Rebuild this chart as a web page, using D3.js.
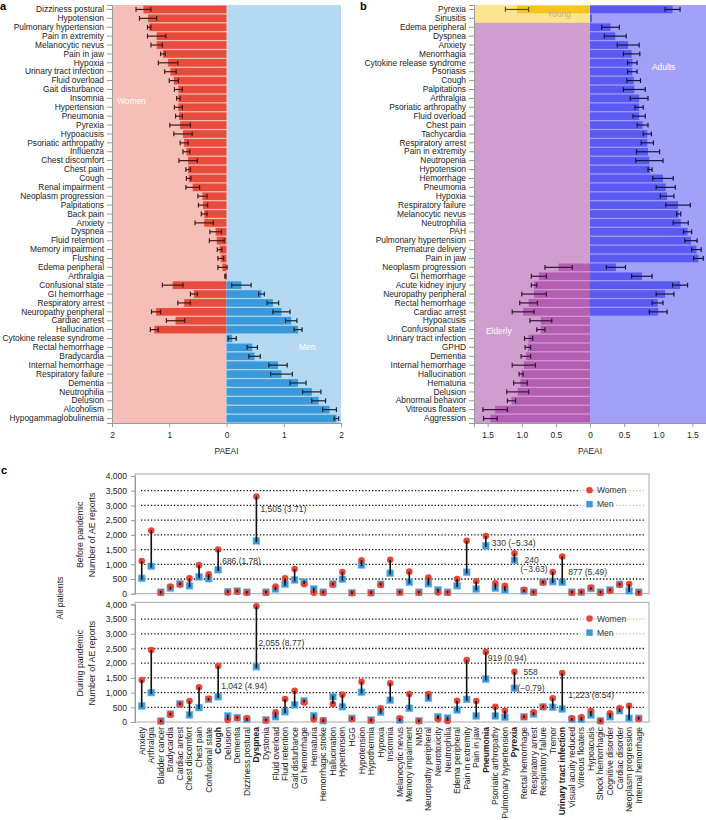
<!DOCTYPE html>
<html>
<head>
<meta charset="utf-8">
<script src="https://cdn.jsdelivr.net/npm/d3@7"></script>
<style>
  body { margin: 0; background: #fff; }
  svg { font-family: "Liberation Sans", Arial, Helvetica, sans-serif; }
</style>
</head>
<body>
<svg id="chart" width="706" height="820"></svg>
<script>
// ---------- Panel a: women vs men ----------
const aLabels = ['Dizziness postural', 'Hypotension', 'Pulmonary hypertension', 'Pain in extremity',
  'Melanocytic nevus', 'Pain in jaw', 'Hypoxia', 'Urinary tract infection', 'Fluid overload',
  'Gait disturbance', 'Insomnia', 'Hypertension', 'Pneumonia', 'Pyrexia', 'Hypoacusis',
  'Psoriatic arthropathy', 'Influenza', 'Chest discomfort', 'Chest pain', 'Cough',
  'Renal impairment', 'Neoplasm progression', 'Palpitations', 'Back pain', 'Anxiety', 'Dyspnea',
  'Fluid retention', 'Memory impairment', 'Flushing', 'Edema peripheral', 'Arthralgia',
  'Confusional state', 'GI hemorrhage', 'Respiratory arrest', 'Neuropathy peripheral',
  'Cardiac arrest', 'Hallucination', 'Cytokine release syndrome', 'Rectal hemorrhage',
  'Bradycardia', 'Internal hemorrhage', 'Respiratory failure', 'Dementia', 'Neutrophilia',
  'Delusion', 'Alcoholism', 'Hypogammaglobulinemia'];
const aWomen = [1.45, 1.37, 1.35, 1.22, 1.22, 1.11, 1.02, 0.98, 0.92, 0.84, 0.84, 0.84, 0.83, 0.81,
  0.76, 0.74, 0.70, 0.67, 0.67, 0.66, 0.59, 0.42, 0.41, 0.39, 0.39, 0.19, 0.17, 0.12, 0.10, 0.07,
  0.02, 0.94, 0.57, 0.74, 1.23, 0.89, 1.26, null, null, null, null, null, null, null, null, null, null];
const aWomenErr = [0.13, 0.15, 0.03, 0.16, 0.10, 0.04, 0.17, 0.10, 0.08, 0.07, 0.03, 0.07, 0.06, 0.18,
  0.16, 0.07, 0.06, 0.16, 0.04, 0.04, 0.12, 0.08, 0.08, 0.05, 0.16, 0.10, 0.13, 0.04, 0.05, 0.08,
  0.01, 0.18, 0.06, 0.11, 0.08, 0.16, 0.07, null, null, null, null, null, null, null, null, null, null];
const aMen = [null, null, null, null, null, null, null, null, null, null, null, null, null, null, null,
  null, null, null, null, null, null, null, null, null, null, null, null, null, null, null, null,
  0.26, 0.61, 0.81, 0.96, 1.13, 1.25, 0.10, 0.45, 0.49, 0.90, 0.96, 1.25, 1.49, 1.61, 1.80, 1.92];
const aMenErr = [null, null, null, null, null, null, null, null, null, null, null, null, null, null, null,
  null, null, null, null, null, null, null, null, null, null, null, null, null, null, null, null,
  0.17, 0.05, 0.10, 0.15, 0.10, 0.07, 0.07, 0.09, 0.10, 0.16, 0.19, 0.14, 0.16, 0.12, 0.12, 0.04];

// ---------- Panel b: age groups ----------
const bLabels = ['Pyrexia', 'Sinusitis', 'Edema peripheral', 'Dyspnea', 'Anxiety', 'Menorrhagia',
  'Cytokine release syndrome', 'Psoriasis', 'Cough', 'Palpitations', 'Arthralgia',
  'Psoriatic arthropathy', 'Fluid overload', 'Chest pain', 'Tachycardia', 'Respiratory arrest',
  'Pain in extremity', 'Neutropenia', 'Hypotension', 'Hemorrhage', 'Pneumonia', 'Hypoxia',
  'Respiratory failure', 'Melanocytic nevus', 'Neutrophilia', 'PAH', 'Pulmonary hypertension',
  'Premature delivery', 'Pain in jaw', 'Neoplasm progression', 'GI hemorrhage',
  'Acute kidney injury', 'Neuropathy peripheral', 'Rectal hemorrhage', 'Cardiac arrest',
  'Hypoacusis', 'Confusional state', 'Urinary tract infection', 'GPHD', 'Dementia',
  'Internal hemorrhage', 'Hallucination', 'Hematuria', 'Delusion', 'Abnormal behavior',
  'Vitreous floaters', 'Aggression'];
const youngRows = ['Pyrexia', 'Sinusitis'];
// left side: young (first rows) or elderly
const bLeft = [1.07, null, null, null, null, null, null, null, null, null, null, null, null, null,
  null, null, null, null, null, null, null, null, null, null, null, null, null, null, null,
  0.46, 0.75, 0.82, 0.82, 0.90, 0.98, 0.72, 0.72, 0.90, 0.91, 0.94, 0.97, 1.01, 1.02, 1.06, 1.15, 1.39, 1.46];
const bLeftErr = [0.17, null, null, null, null, null, null, null, null, null, null, null, null, null,
  null, null, null, null, null, null, null, null, null, null, null, null, null, null, null,
  0.20, 0.11, 0.04, 0.18, 0.13, 0.16, 0.16, 0.06, 0.06, 0.04, 0.07, 0.17, 0.03, 0.10, 0.16, 0.06, 0.18, 0.10];
const bRight = [1.21, 0.03, 0.30, 0.37, 0.56, 0.61, 0.62, 0.62, 0.64, 0.65, 0.72, 0.72, 0.72, 0.77,
  0.84, 0.84, 0.85, 0.87, 0.88, 1.07, 1.11, 1.13, 1.29, 1.30, 1.33, 1.43, 1.48, 1.56, 1.59,
  0.38, 0.76, 1.32, 1.10, 0.99, 1.00, null, null, null, null, null, null, null, null, null, null, null, null];
const bRightErr = [0.11, 0.01, 0.13, 0.16, 0.16, 0.12, 0.07, 0.07, 0.10, 0.16, 0.13, 0.06, 0.09, 0.08,
  0.06, 0.09, 0.17, 0.20, 0.03, 0.15, 0.14, 0.10, 0.18, 0.03, 0.11, 0.06, 0.09, 0.07, 0.07,
  0.14, 0.15, 0.11, 0.13, 0.08, 0.13, null, null, null, null, null, null, null, null, null, null, null, null];

// ---------- Panel c: AE reports before / during pandemic ----------
const cLabels = ['Anxiety', 'Arthralgia', 'Bladder cancer', 'Bradycardia', 'Cardiac arrest',
  'Chest discomfort', 'Chest pain', 'Confusional state', 'Cough', 'Delusion', 'Dementia',
  'Dizziness postural', 'Dyspnea', 'Dystonia', 'Fluid overload', 'Fluid retention',
  'Gait disturbance', 'GI hemorrhage', 'Hematuria', 'Hemorrhagic stroke', 'Hallucination',
  'Hypertension', 'HGG', 'Hypotension', 'Hypothermia', 'Hypoxia', 'Insomnia', 'Melanocytic nevus',
  'Memory impairment', 'NMS', 'Neuropathy peripheral', 'Neurotoxicity', 'Neutrophilia',
  'Edema peripheral', 'Pain in extremity', 'Pain in jaw', 'Pneumonia', 'Psoriatic arthropathy',
  'Pulmonary hypertension', 'Pyrexia', 'Rectal hemorrhage', 'Respiratory arrest',
  'Respiratory failure', 'Tremor', 'Urinary tract infection', 'Visual acuity reduced',
  'Vitreous floaters', 'Hypoacusis', 'Shock hemorrhagic', 'Cognitive disorder',
  'Cardiac disorder', 'Neoplasm progression', 'Internal hemorrhage'];
const cBold = ['Cough', 'Dyspnea', 'Pneumonia', 'Pyrexia', 'Urinary tract infection'];
const beforeWomen = [1110, 2150, 30, 240, 310, 520, 970, 660, 1500, 40, 70, 30, 3300, 30, 240, 520,
  840, 320, 35, 30, 310, 740, 20, 1135, 20, 300, 1155, 40, 750, 30, 545, 45, 30, 500, 1800, 420,
  1960, 355, 265, 1370, 130, 40, 380, 740, 1265, 30, 60, 205, 30, 100, 300, 330, 30];
const beforeMen = [520, 930, 50, 190, 335, 270, 570, 510, 815, 70, 90, 50, 1795, 50, 160, 320,
  465, 390, 160, 50, 330, 490, 35, 975, 35, 320, 695, 50, 390, 50, 340, 125, 50, 270, 730, 160,
  1630, 185, 125, 1130, 100, 50, 390, 410, 388, 50, 50, 175, 50, 125, 320, 100, 50];
const duringWomen = [1430, 2445, 20, 250, 600, 715, 1180, 790, 1905, 70, 130, 130, 3935, 50, 330,
  780, 1060, 660, 90, 60, 610, 930, 100, 1370, 50, 465, 1315, 125, 950, 30, 950, 90, 35, 725, 2105,
  715, 2380, 520, 385, 1705, 170, 330, 510, 805, 1665, 125, 160, 385, 30, 295, 465, 555, 100];
const duringMen = [545, 1000, 35, 270, 620, 240, 490, 770, 860, 205, 150, 90, 1880, 70, 180, 350,
  580, 715, 215, 45, 860, 520, 125, 1010, 70, 330, 740, 70, 465, 45, 805, 180, 135, 410, 770, 205,
  1460, 205, 160, 1147, 180, 270, 520, 500, 442, 90, 90, 240, 45, 180, 385, 125, 125];
const beforeNotes = [
  { cat: 'Dyspnea', at: 2880, dx: 4, lines: ['1,505 (3.71)'] },
  { cat: 'Cough', at: 1112, dx: 4, lines: ['686 (1.78)'] },
  { cat: 'Pneumonia', at: 1735, dx: 6, lines: ['330 (\u22125.34)'] },
  { cat: 'Pyrexia', at: 1146, dx: 10, lines: ['240'] },
  { cat: 'Pyrexia', at: 850, dx: 6, lines: ['(\u22123.63)'] },
  { cat: 'Urinary tract infection', at: 728, dx: 6, lines: ['877 (5.49)'] },
];
const duringNotes = [
  { cat: 'Dyspnea', at: 2697, dx: 2, lines: ['2,055 (8.77)'] },
  { cat: 'Cough', at: 1235, dx: 3, lines: ['1,042 (4.94)'] },
  { cat: 'Pneumonia', at: 2165, dx: 2, lines: ['919 (0.94)'] },
  { cat: 'Pyrexia', at: 1690, dx: 9, lines: ['558'] },
  { cat: 'Pyrexia', at: 1145, dx: 3, lines: ['(\u22120.79)'] },
  { cat: 'Urinary tract infection', at: 918, dx: 6, lines: ['1,223 (8.54)'] },
];

const svg = d3.select('#chart');
const FS = 8.4;

function styleAxis(g) {
  g.selectAll('path.domain').attr('stroke', '#9a9a9a');
  g.selectAll('.tick line').attr('stroke', '#9a9a9a');
  g.selectAll('text').attr('font-size', FS).attr('fill', '#222');
}

function panelLabel(t, x, y) {
  svg.append('text').attr('x', x).attr('y', y).attr('font-size', 11)
    .attr('font-weight', 'bold').text(t);
}

function errBar(g, x1, x2, yc, color) {
  g.append('line').attr('x1', x1).attr('x2', x2).attr('y1', yc).attr('y2', yc)
    .attr('stroke', color).attr('stroke-width', 1.2);
  [x1, x2].forEach(x => g.append('line').attr('x1', x).attr('x2', x)
    .attr('y1', yc - 2.4).attr('y2', yc + 2.4).attr('stroke', color).attr('stroke-width', 1.2));
}

// ================= Panel a =================
(function drawA() {
  const g = svg.append('g');
  const x = d3.scaleLinear().domain([-2, 2]).range([112, 341]);
  const y = d3.scaleBand().domain(aLabels).range([5, 423]).paddingInner(0.14).paddingOuter(0.07);

  g.append('rect').attr('x', x(-2)).attr('y', 5).attr('width', x(0) - x(-2)).attr('height', 418)
    .attr('fill', '#f5beb7');
  g.append('rect').attr('x', x(0)).attr('y', 5).attr('width', x(2) - x(0)).attr('height', 418)
    .attr('fill', '#b4d9f1');

  aLabels.forEach((lab, i) => {
    const yc = y(lab) + y.bandwidth() / 2;
    if (aWomen[i] != null) {
      g.append('rect').attr('x', x(-aWomen[i])).attr('y', y(lab))
        .attr('width', x(0) - x(-aWomen[i])).attr('height', y.bandwidth()).attr('fill', '#e84b3c');
    }
    if (aMen[i] != null) {
      g.append('rect').attr('x', x(0)).attr('y', y(lab))
        .attr('width', x(aMen[i]) - x(0)).attr('height', y.bandwidth()).attr('fill', '#3a99da');
    }
    if (aWomen[i] != null) {
      errBar(g, x(-(aWomen[i] - aWomenErr[i])), x(-(aWomen[i] + aWomenErr[i])), yc, '#4a1512');
    }
    if (aMen[i] != null) {
      errBar(g, x(aMen[i] - aMenErr[i]), x(aMen[i] + aMenErr[i]), yc, '#14263a');
    }
  });

  g.append('text').attr('x', 117).attr('y', 104).attr('font-size', FS).attr('fill', '#fff').text('Women');
  g.append('text').attr('x', 299).attr('y', 350).attr('font-size', FS).attr('fill', '#fff').text('Men');

  g.append('g').attr('transform', 'translate(112,0)')
    .call(d3.axisLeft(y).tickSize(5).tickPadding(3)).call(styleAxis);
  g.append('g').attr('transform', 'translate(0,423)')
    .call(d3.axisBottom(x).tickValues([-2, -1, 0, 1, 2]).tickFormat(d => Math.abs(d))
      .tickSize(4).tickPadding(5)).call(styleAxis);
  g.append('text').attr('x', x(0)).attr('y', 454).attr('text-anchor', 'middle')
    .attr('font-size', FS).attr('fill', '#222').text('PAEAI');
  panelLabel('a', 0, 10);
})();

// ================= Panel b =================
(function drawB() {
  const g = svg.append('g');
  const x = d3.scaleLinear().domain([-1.7, 1.7]).range([474, 706]);
  const y = d3.scaleBand().domain(bLabels).range([5, 423]).paddingInner(0.14).paddingOuter(0.07);
  const youngBottom = 5 + y.step() * youngRows.length;

  g.append('rect').attr('x', x(-1.7)).attr('y', 5).attr('width', x(0) - x(-1.7)).attr('height', 418)
    .attr('fill', '#cf9ecf');
  g.append('rect').attr('x', x(-1.7)).attr('y', 5).attr('width', x(0) - x(-1.7))
    .attr('height', youngBottom - 5).attr('fill', '#fce48e');
  g.append('rect').attr('x', x(0)).attr('y', 5).attr('width', x(1.7) - x(0)).attr('height', 418)
    .attr('fill', '#a1a1fa');

  bLabels.forEach((lab, i) => {
    const yc = y(lab) + y.bandwidth() / 2;
    const young = youngRows.includes(lab);
    if (bLeft[i] != null) {
      g.append('rect').attr('x', x(-bLeft[i])).attr('y', y(lab))
        .attr('width', x(0) - x(-bLeft[i])).attr('height', y.bandwidth())
        .attr('fill', young ? '#f6c51c' : '#b35db3');
    }
    if (bRight[i] != null) {
      g.append('rect').attr('x', x(0)).attr('y', y(lab))
        .attr('width', Math.max(1.5, x(bRight[i]) - x(0))).attr('height', y.bandwidth())
        .attr('fill', '#5a5af2');
    }
    if (bLeft[i] != null) {
      errBar(g, x(-(bLeft[i] - bLeftErr[i])), x(-(bLeft[i] + bLeftErr[i])), yc,
        young ? '#5a4a14' : '#3a1238');
    }
    if (bRight[i] != null && bRightErr[i] > 0.015) {
      errBar(g, x(bRight[i] - bRightErr[i]), x(bRight[i] + bRightErr[i]), yc, '#14144a');
    }
  });

  g.append('text').attr('x', 559).attr('y', 17).attr('text-anchor', 'middle')
    .attr('font-size', FS).attr('fill', '#c0b190').text('Young');
  g.append('text').attr('x', 652).attr('y', 70).attr('font-size', FS).attr('fill', '#fff').text('Adults');
  g.append('text').attr('x', 486).attr('y', 334).attr('font-size', FS).attr('fill', '#fff').text('Elderly');

  g.append('g').attr('transform', 'translate(474,0)')
    .call(d3.axisLeft(y).tickSize(5).tickPadding(3)).call(styleAxis);
  g.append('g').attr('transform', 'translate(0,423)')
    .call(d3.axisBottom(x).tickValues([-1.5, -1, -0.5, 0, 0.5, 1, 1.5])
      .tickFormat(d => d === 0 ? '0' : Math.abs(d).toFixed(1)).tickSize(4).tickPadding(5))
    .call(styleAxis);
  g.append('text').attr('x', x(0)).attr('y', 454).attr('text-anchor', 'middle')
    .attr('font-size', FS).attr('fill', '#222').text('PAEAI');
  panelLabel('b', 360, 10);
})();

// ================= Panel c =================
const xC = d3.scalePoint().domain(cLabels).range([141.7, 638.7]);

function drawDumbbell(y0, y1, women, men, notes, title) {
  const g = svg.append('g');
  const y = d3.scaleLinear().domain([0, 4000]).range([y0, y1]);
  const left = 135, right = 649;

  g.append('rect').attr('x', left).attr('y', y(4000) - 2).attr('width', right - left)
    .attr('height', y(0) - y(4000) + 2).attr('fill', 'none').attr('stroke', '#a8a8a8');

  // dotted grid
  d3.range(500, 4000, 500).forEach(v => {
    g.append('line').attr('x1', 141).attr('x2', 645).attr('y1', y(v)).attr('y2', y(v))
      .attr('stroke', '#111').attr('stroke-width', 1.3).attr('stroke-dasharray', '1.3,2');
  });

  // legend box softens the grid behind it
  const ly = y(3500);
  g.append('rect').attr('x', 578).attr('y', ly - 8).attr('width', 68).attr('height', 28)
    .attr('fill', '#fff').attr('opacity', 0.72);

  // markers
  cLabels.forEach((lab, i) => {
    const cx = xC(lab);
    g.append('rect').attr('x', cx - 3.4).attr('y', y(men[i]) - 3.4).attr('width', 6.8).attr('height', 6.8)
      .attr('fill', '#3a9ad9').attr('stroke', '#7cc0ec').attr('stroke-width', 0.6);
    g.append('circle').attr('cx', cx).attr('cy', y(women[i])).attr('r', 3.3).attr('fill', '#e9463a');
  });
  cLabels.forEach((lab, i) => {
    const cx = xC(lab);
    const ya = Math.min(y(women[i]), y(men[i]) - 1.3);
    const yb = Math.max(y(women[i]), y(men[i]) + 1.3);
    g.append('line').attr('x1', cx).attr('x2', cx).attr('y1', ya).attr('y2', yb)
      .attr('stroke', '#111').attr('stroke-width', 1.6);
  });

  notes.forEach(n => {
    g.append('text').attr('x', xC(n.cat) + n.dx).attr('y', y(n.at) + 3)
      .attr('font-size', 8.5).attr('fill', '#333').text(n.lines[0]);
  });

  // legend
  g.append('circle').attr('cx', 589.5).attr('cy', ly - 0.5).attr('r', 3.3).attr('fill', '#e9463a');
  g.append('text').attr('x', 597).attr('y', ly + 2.5).attr('font-size', 8.5).attr('fill', '#333').text('Women');
  g.append('rect').attr('x', 586.3).attr('y', ly + 10.3).attr('width', 6.4).attr('height', 6.4).attr('fill', '#3a9ad9');
  g.append('text').attr('x', 597).attr('y', ly + 16.5).attr('font-size', 8.5).attr('fill', '#333').text('Men');

  g.append('g').attr('transform', `translate(${left},0)`)
    .call(d3.axisLeft(y).tickValues(d3.range(0, 4001, 500)).tickFormat(d3.format(',')).tickSize(4).tickPadding(4))
    .call(styleAxis)
    .call(a => a.selectAll('text').attr('font-size', 8.5));

  const ym = (y(0) + y(4000)) / 2;
  g.append('text').attr('transform', `translate(83,${ym}) rotate(-90)`).attr('text-anchor', 'middle')
    .attr('font-size', 8.8).attr('fill', '#222').text(title);
  g.append('text').attr('transform', `translate(95,${ym}) rotate(-90)`).attr('text-anchor', 'middle')
    .attr('font-size', 8.8).attr('fill', '#222').text('Number of AE reports');
}

drawDumbbell(593.7, 476, beforeWomen, beforeMen, beforeNotes, 'Before pandemic');
drawDumbbell(722, 604.4, duringWomen, duringMen, duringNotes, 'During pandemic');

svg.append('text').attr('transform', 'translate(63,598) rotate(-90)').attr('text-anchor', 'middle')
  .attr('font-size', 8.8).attr('fill', '#222').text('All patients');

svg.append('g').selectAll('text').data(cLabels).join('text')
  .attr('transform', d => `translate(${xC(d) + 3},727) rotate(-90)`)
  .attr('text-anchor', 'end')
  .attr('font-size', 8.5)
  .attr('fill', '#222')
  .attr('font-weight', d => cBold.includes(d) ? 'bold' : 'normal')
  .text(d => d);

panelLabel('c', 1, 474);
</script>
</body>
</html>
